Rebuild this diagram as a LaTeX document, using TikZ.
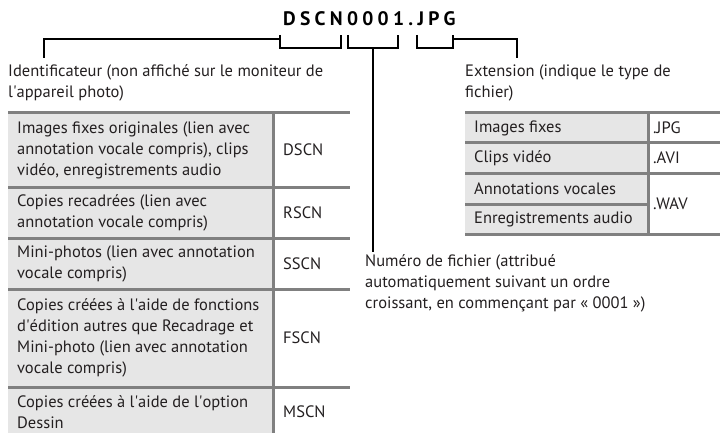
\documentclass[tikz,border=0pt]{standalone}
\usepackage{fontspec}
\setmainfont{PT Sans}
\definecolor{cellgray}{HTML}{E6E6E6}
\definecolor{rulegray}{HTML}{808080}
\definecolor{ink}{HTML}{231F20}
\begin{document}
\begin{tikzpicture}[x=1pt,y=-1pt,
  txt/.style={font=\fontsize{16.5}{21}\selectfont, inner sep=0pt, align=left, text=ink},
  cell/.style={txt, anchor=west},
  titlestyle/.style={font=\fontsize{19.5}{21}\selectfont\bfseries\addfontfeature{LetterSpace=22}, inner sep=0pt, text=black},
  brk/.style={line width=2pt, draw=black},
  rl/.style={line width=3pt, draw=rulegray},
]
\useasboundingbox (0,0) rectangle (720,433);

% title
\node[titlestyle, anchor=base west] (title) at (283,25.5) {DSCN0001.JPG};

% bracket coordinates
\coordinate (b1tl) at (280,35); \coordinate (b1bl) at (280,48);
\coordinate (b1br) at (341,48); \coordinate (b1tr) at (341,35);
\coordinate (b2tl) at (348,35); \coordinate (b2bl) at (348,48);
\coordinate (b2br) at (398,48); \coordinate (b2tr) at (398,35);
\coordinate (b2m) at (373,48);
\coordinate (b3tl) at (417,35); \coordinate (b3bl) at (417,48);
\coordinate (b3br) at (453,48); \coordinate (b3tr) at (453,35);
\coordinate (b1j) at (280,39);
\coordinate (b3j) at (453,39);
\coordinate (idend) at (44,58);
\coordinate (exend) at (517,58);
\coordinate (numend) at (373,252);

\draw[brk] (b1tl) -- (b1bl) -- (b1br) -- (b1tr);
\draw[brk] (b2tl) -- (b2bl) -- (b2br) -- (b2tr);
\draw[brk] (b3tl) -- (b3bl) -- (b3br) -- (b3tr);
\draw[brk] (b1j) -| (idend);
\draw[brk] (b3j) -| (exend);
\draw[brk] (b2m) -- (numend);

% labels (base anchor = last line baseline)
\node[txt, anchor=base west] (idlab) at (8,98) {Identificateur (non affiché sur le moniteur de\\l\textquotesingle appareil photo)};
\node[txt, anchor=base west] (exlab) at (465,98) {Extension (indique le type de\\fichier)};
\node[txt, anchor=base west] (numlab) at (365,308) {Numéro de fichier (attribué\\automatiquement suivant un ordre\\croissant, en commençant par « 0001 »)};

% left table
\fill[cellgray] (8,113) rectangle (273,433);
\foreach \yy in {113,187,238,289,387} \draw[rl] (8,\yy) -- (350,\yy);
\draw[rl] (273,113) -- (273,433);

\node[cell] (l1) at (17,150) {Images fixes originales (lien avec\\annotation vocale compris), clips\\vidéo, enregistrements audio};
\node[cell] (c1) at (283,150) {DSCN};
\node[cell] (l2) at (17,212.5) {Copies recadrées (lien avec\\annotation vocale compris)};
\node[cell] (c2) at (283,212.5) {RSCN};
\node[cell] (l3) at (17,263.5) {Mini-photos (lien avec annotation\\vocale compris)};
\node[cell] (c3) at (283,263.5) {SSCN};
\node[cell] (l4) at (17,338) {Copies créées à l\textquotesingle aide de fonctions\\d\textquotesingle édition autres que Recadrage et\\Mini-photo (lien avec annotation\\vocale compris)};
\node[cell] (c4) at (283,338) {FSCN};
\node[cell] (l5) at (17,412) {Copies créées à l\textquotesingle aide de l\textquotesingle option\\Dessin};
\node[cell] (c5) at (283,412) {MSCN};

% right table
\fill[cellgray] (465,113) rectangle (648,234);
\foreach \yy in {113,143,173,234} \draw[rl] (465,\yy) -- (720,\yy);
\draw[rl] (465,204) -- (648,204);
\draw[rl] (648,113) -- (648,234);

\node[cell] (r1) at (474,128) {Images fixes};
\node[cell] (e1) at (653,128) {.JPG};
\node[cell] (r2) at (474,158) {Clips vidéo};
\node[cell] (e2) at (653,158) {.AVI};
\node[cell] (r3) at (474,188.5) {Annotations vocales};
\node[cell] (r4) at (474,219) {Enregistrements audio};
\node[cell] (e3) at (653,203.5) {.WAV};
\end{tikzpicture}
\end{document}
